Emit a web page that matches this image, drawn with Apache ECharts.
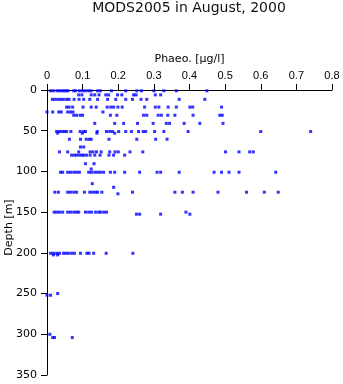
<!DOCTYPE html>
<html>
<head>
<meta charset="utf-8">
<script src="https://cdn.jsdelivr.net/npm/echarts@6/dist/echarts.min.js"></script>
<style>
  html, body { margin: 0; padding: 0; background: #fff; }
  #chart { width: 343px; height: 384px; }
</style>
</head>
<body>
<div id="chart"></div>
<script>
// Sampling depths (m) of each row of bottle samples
const sampleDepths = [1, 6, 11.5, 21, 27, 31, 41, 51, 53, 60.5, 70, 76, 80, 90.5, 97, 101,
  115, 119.5, 125.5, 127.5, 150, 152.5, 200.5, 202.5, 250, 252, 300, 304];

// Phaeopigment concentrations (µg/l) measured at each depth above
const phaeoByDepth = [
  [0.010, 0.018, 0.028, 0.035, 0.042, 0.048, 0.053, 0.059, 0.075, 0.080, 0.091, 0.100, 0.108,
   0.117, 0.124, 0.142, 0.150, 0.181, 0.221, 0.252, 0.265, 0.300, 0.328, 0.363, 0.449],
  [0.089, 0.098, 0.124, 0.134, 0.146, 0.165, 0.173, 0.198, 0.210, 0.243, 0.250, 0.304, 0.319],
  [0.015, 0.022, 0.030, 0.038, 0.046, 0.055, 0.062, 0.076, 0.090, 0.103, 0.120, 0.142, 0.170,
   0.193, 0.221, 0.240, 0.264, 0.280, 0.371, 0.443],
  [0.055, 0.062, 0.072, 0.101, 0.124, 0.138, 0.169, 0.179, 0.187, 0.199, 0.211, 0.274, 0.304,
   0.314, 0.340, 0.363, 0.401, 0.409, 0.490],
  [0.000, 0.016, 0.033, 0.040, 0.058, 0.066, 0.073, 0.157],
  [0.075, 0.083, 0.093, 0.100, 0.178, 0.196, 0.271, 0.280, 0.312, 0.321, 0.339, 0.359, 0.410,
   0.485, 0.492],
  [0.134, 0.190, 0.215, 0.254, 0.298, 0.335, 0.344, 0.385, 0.429, 0.494],
  [0.027, 0.035, 0.042, 0.049, 0.055, 0.067, 0.093, 0.103, 0.108, 0.141, 0.167, 0.176, 0.184,
   0.201, 0.221, 0.237, 0.257, 0.270, 0.277, 0.302, 0.328, 0.396, 0.600, 0.740],
  [0.030, 0.099, 0.140, 0.190],
  [0.063, 0.094, 0.110, 0.118, 0.124, 0.174, 0.252, 0.305, 0.337],
  [0.094, 0.103],
  [0.035, 0.058, 0.089, 0.121, 0.129, 0.139, 0.152, 0.176, 0.191, 0.200, 0.233, 0.269, 0.501,
   0.539, 0.569, 0.579],
  [0.069, 0.077, 0.083, 0.091, 0.098, 0.103, 0.111, 0.121, 0.134, 0.149, 0.174, 0.187, 0.218],
  [0.108, 0.132],
  [0.124],
  [0.038, 0.044, 0.058, 0.066, 0.075, 0.083, 0.091, 0.117, 0.125, 0.134, 0.142, 0.150, 0.159,
   0.178, 0.190, 0.218, 0.260, 0.309, 0.319, 0.371, 0.469, 0.490, 0.511, 0.539, 0.642],
  [0.127],
  [0.187],
  [0.022, 0.032, 0.058, 0.066, 0.075, 0.083, 0.105, 0.120, 0.128, 0.136, 0.142, 0.154, 0.240,
   0.359, 0.380, 0.410, 0.480, 0.560, 0.610, 0.649],
  [0.199],
  [0.020, 0.027, 0.035, 0.044, 0.058, 0.066, 0.075, 0.083, 0.089, 0.108, 0.117, 0.125, 0.136,
   0.145, 0.150, 0.159, 0.167, 0.390],
  [0.251, 0.260, 0.319, 0.401],
  [0.010, 0.018, 0.027, 0.035, 0.046, 0.053, 0.060, 0.069, 0.077, 0.094, 0.112, 0.118, 0.131,
   0.166, 0.241],
  [0.018, 0.030],
  [0.030],
  [0.000, 0.010],
  [0.008],
  [0.016, 0.021, 0.071]
];

// Axis ticks
const phaeoTicks = [0, 0.1, 0.2, 0.3, 0.4, 0.5, 0.6, 0.7, 0.8];
const depthTicks = [0, 50, 100, 150, 200, 250, 300, 350];

const points = [];
sampleDepths.forEach((d, i) => {
  phaeoByDepth[i].forEach(v => points.push([v, d]));
});

const chart = echarts.init(document.getElementById('chart'), null, { renderer: 'canvas' });
const black = '#000';

chart.setOption({
  animation: false,
  backgroundColor: '#fff',
  title: {
    text: 'MODS2005 in August, 2000',
    left: 189,
    top: 1,
    padding: 0,
    textAlign: 'center',
    textStyle: { fontFamily: 'DejaVu Sans', fontSize: 14, fontWeight: 'normal', color: '#111' }
  },
  grid: { left: 47, right: 11, top: 90, bottom: 9, containLabel: false, outerBoundsMode: 'none' },
  xAxis: {
    type: 'value',
    position: 'top',
    min: phaeoTicks[0],
    max: phaeoTicks[phaeoTicks.length - 1],
    interval: 0.1,
    name: 'Phaeo. [µg/l]',
    nameLocation: 'middle',
    nameGap: 25,
    nameMoveOverlap: false,
    nameTextStyle: { fontFamily: 'DejaVu Sans', fontSize: 11, color: black },
    axisLine: { show: true, lineStyle: { color: black, width: 1 } },
    axisTick: { show: true, inside: false, length: 6, lineStyle: { color: black } },
    axisLabel: {
      margin: 9,
      fontFamily: 'Liberation Sans',
      fontSize: 11,
      color: black,
      formatter: v => (v === 0 ? '0' : v.toFixed(1))
    },
    splitLine: { show: false }
  },
  yAxis: {
    type: 'value',
    inverse: true,
    min: depthTicks[0],
    max: depthTicks[depthTicks.length - 1],
    interval: 50,
    name: 'Depth [m]',
    nameLocation: 'middle',
    nameRotate: 90,
    nameGap: 32,
    nameMoveOverlap: false,
    nameTextStyle: { fontFamily: 'DejaVu Sans', fontSize: 11, color: black, padding: [0, 0, 0, 10] },
    axisLine: { show: true, lineStyle: { color: black, width: 1 } },
    axisTick: { show: true, inside: false, length: 6, lineStyle: { color: black } },
    axisLabel: { margin: 10, fontFamily: 'DejaVu Sans', fontSize: 11, color: black },
    splitLine: { show: false }
  },
  series: [{
    type: 'scatter',
    data: points,
    symbol: 'rect',
    symbolSize: 3,
    itemStyle: { color: '#0000ff' },
    clip: false
  }]
});
</script>
</body>
</html>
